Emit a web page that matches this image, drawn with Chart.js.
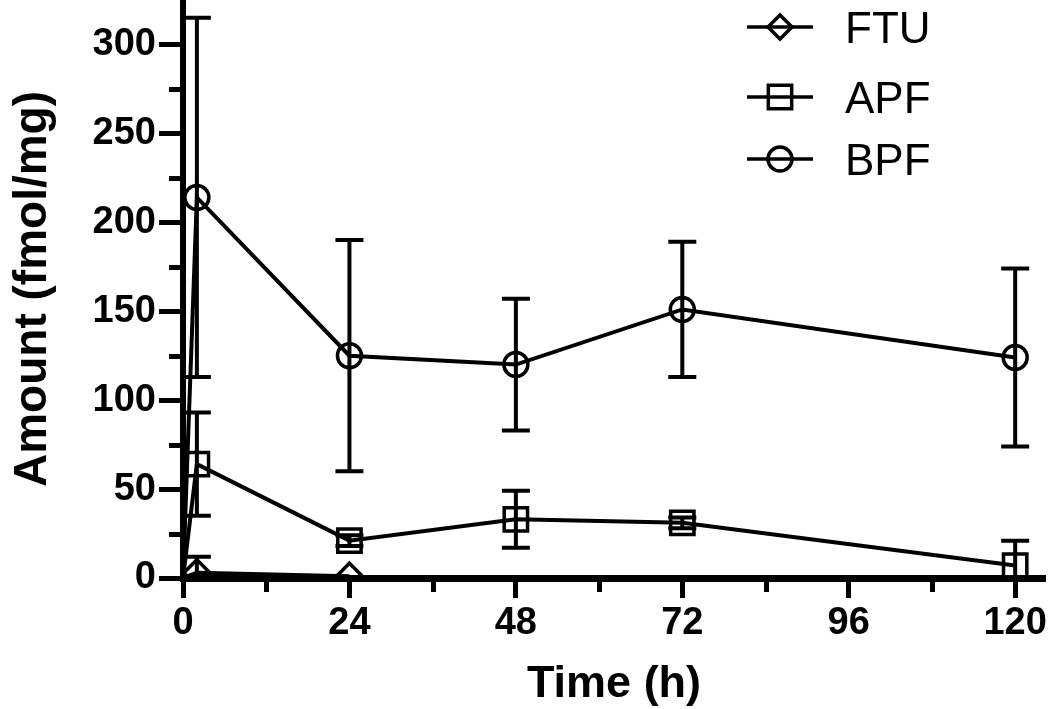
<!DOCTYPE html>
<html>
<head>
<meta charset="utf-8">
<script src="https://cdn.jsdelivr.net/npm/chart.js@4.4.1/dist/chart.umd.min.js"></script>
<style>
  html, body { margin: 0; padding: 0; background: #fff; }
  #wrap { width: 1050px; height: 709px; }
</style>
</head>
<body>
<div id="wrap"><canvas id="pkChart" width="1050" height="709"></canvas></div>
<script>
// time points (h)
const timeFTU = [0, 2, 24];
const timeAPF = [0, 2, 24, 48, 72, 120];
const timeBPF = [0, 2, 24, 48, 72, 120];

// amount in fmol/mg, mean and error bar
const ftuMean = [0, 3, 1];
const ftuErr  = [0, 9, 0];
const apfMean = [0, 64, 21, 33, 31, 7];
const apfErr  = [0, 29, 3, 16, 3, 14];
const bpfMean = [0, 214, 125, 120, 151, 124];
const bpfErr  = [0, 101, 65, 37, 38, 50];

const seriesNames = ['FTU', 'APF', 'BPF'];

const xTicks = [0, 24, 48, 72, 96, 120];
const xMinorTicks = [12, 36, 60, 84, 108];
const yTicks = [0, 50, 100, 150, 200, 250, 300];
const yMinorTicks = [25, 75, 125, 175, 225, 275];

const FONT = "'Liberation Sans', Arial, Helvetica, sans-serif";

function points(t, v) {
    return t.map((x, i) => ({ x: x, y: v[i] }));
}

// hide the marker at t = 0 (it sits under the axes in the original)
function radiusFor(r) {
    return ctx => ctx.dataIndex === 0 ? 0 : r;
}

function makeSet(label, t, v, err, style, r) {
    return {
        label: label,
        data: points(t, v),
        errors: err,
        borderColor: '#000',
        borderWidth: 4,
        backgroundColor: 'rgba(0,0,0,0)',
        pointStyle: style,
        pointRadius: radiusFor(r),
        pointBorderWidth: 3.5,
        pointBorderColor: '#000',
        pointBackgroundColor: 'rgba(0,0,0,0)',
        tension: 0,
        clip: 0
    };
}

// error bars, drawn through the scales
const errorBars = {
    id: 'errorBars',
    afterDatasetsDraw(chart) {
        const { ctx, chartArea, scales: { x, y } } = chart;
        ctx.save();
        ctx.beginPath();
        ctx.rect(chartArea.left, chartArea.top, chartArea.right - chartArea.left, chartArea.bottom - chartArea.top);
        ctx.clip();
        ctx.strokeStyle = '#000';
        ctx.lineWidth = 4;
        chart.data.datasets.forEach(ds => {
            ds.data.forEach((p, i) => {
                const e = ds.errors[i];
                if (!e) return;
                const px = x.getPixelForValue(p.x);
                const top = y.getPixelForValue(p.y + e);
                const bot = y.getPixelForValue(p.y - e);
                ctx.beginPath();
                ctx.moveTo(px, top);
                ctx.lineTo(px, bot);
                ctx.moveTo(px - 14, top);
                ctx.lineTo(px + 14, top);
                ctx.moveTo(px - 14, bot);
                ctx.lineTo(px + 14, bot);
                ctx.stroke();
            });
        });
        ctx.restore();
    }
};

// minor ticks (shorter than the labelled ones)
const minorTicks = {
    id: 'minorTicks',
    afterDraw(chart) {
        const { ctx, chartArea, scales: { x, y } } = chart;
        ctx.save();
        ctx.strokeStyle = '#000';
        ctx.lineWidth = 5;
        ctx.beginPath();
        xMinorTicks.forEach(v => {
            const px = Math.round(x.getPixelForValue(v)) + 0.5;
            ctx.moveTo(px, chartArea.bottom);
            ctx.lineTo(px, chartArea.bottom + 14);
        });
        yMinorTicks.forEach(v => {
            const py = Math.round(y.getPixelForValue(v)) + 0.5;
            ctx.moveTo(chartArea.left, py);
            ctx.lineTo(chartArea.left - 14, py);
        });
        ctx.stroke();
        ctx.restore();
    }
};

function drawMarker(ctx, style, cx, cy, r) {
    ctx.beginPath();
    if (style === 'circle') {
        ctx.arc(cx, cy, r, 0, Math.PI * 2);
    } else if (style === 'rect') {
        const h = r * Math.SQRT1_2;
        ctx.rect(cx - h, cy - h, 2 * h, 2 * h);
    } else {
        ctx.moveTo(cx, cy - r);
        ctx.lineTo(cx + r, cy);
        ctx.lineTo(cx, cy + r);
        ctx.lineTo(cx - r, cy);
        ctx.closePath();
    }
    ctx.stroke();
}

// legend in the top right corner: line + marker + name
const cornerLegend = {
    id: 'cornerLegend',
    afterDraw(chart) {
        const ctx = chart.ctx;
        const rows = [27, 97, 159];
        ctx.save();
        ctx.strokeStyle = '#000';
        ctx.fillStyle = '#000';
        ctx.lineWidth = 3.5;
        ctx.font = '44px ' + FONT;
        ctx.textBaseline = 'alphabetic';
        chart.data.datasets.forEach((ds, i) => {
            const yy = rows[i];
            ctx.beginPath();
            ctx.moveTo(747, yy);
            ctx.lineTo(813, yy);
            ctx.stroke();
            drawMarker(ctx, ds.pointStyle, 780, yy, ds.pointStyle === 'circle' ? 12 : (ds.pointStyle === 'rect' ? 16.5 : 12));
            ctx.fillText(ds.label, 845, yy + 16);
        });
        ctx.restore();
    }
};

const chart = new Chart(document.getElementById('pkChart'), {
    type: 'line',
    data: {
        datasets: [
            makeSet(seriesNames[0], timeFTU, ftuMean, ftuErr, 'rectRot', 13),
            makeSet(seriesNames[1], timeAPF, apfMean, apfErr, 'rect', 16.5),
            makeSet(seriesNames[2], timeBPF, bpfMean, bpfErr, 'circle', 12)
        ]
    },
    options: {
        responsive: false,
        animation: false,
        layout: { autoPadding: false, padding: { left: 0, top: 0, right: 5, bottom: 0 } },
        plugins: {
            legend: { display: false },
            tooltip: { enabled: false }
        },
        scales: {
            x: {
                type: 'linear',
                min: 0,
                max: 124.3,
                afterBuildTicks: s => { s.ticks = xTicks.map(v => ({ value: v })); },
                afterFit: s => { s.height = 131; s.paddingLeft = 0; s.paddingRight = 0; },
                ticks: {
                    color: '#000',
                    font: { family: FONT, size: 38, weight: 'bold' },
                    padding: 3,
                    maxRotation: 0,
                    autoSkip: false
                },
                grid: { drawOnChartArea: false, drawTicks: true, tickLength: 20, tickWidth: 5, tickColor: '#000' },
                border: { display: true, color: '#000', width: 7 },
                title: {
                    display: true,
                    text: 'Time (h)',
                    color: '#000',
                    font: { family: FONT, size: 45, weight: 'bold', lineHeight: 1 },
                    padding: { top: 0, bottom: 2 }
                }
            },
            y: {
                min: 0,
                max: 325,
                afterBuildTicks: s => { s.ticks = yTicks.map(v => ({ value: v })); },
                afterFit: s => { s.width = 183; s.paddingTop = 0; s.paddingBottom = 0; },
                ticks: {
                    color: '#000',
                    font: { family: FONT, size: 38, weight: 'bold' },
                    padding: 3
                },
                grid: { drawOnChartArea: false, drawTicks: true, tickLength: 24, tickWidth: 5, tickColor: '#000' },
                border: { display: true, color: '#000', width: 6 },
                title: {
                    display: true,
                    text: 'Amount (fmol/mg)',
                    color: '#000',
                    font: { family: FONT, size: 46, weight: 'bold', lineHeight: 1 },
                    padding: { top: 10, bottom: 0 }
                }
            }
        }
    },
    plugins: [errorBars, minorTicks, cornerLegend]
});
</script>
</body>
</html>
